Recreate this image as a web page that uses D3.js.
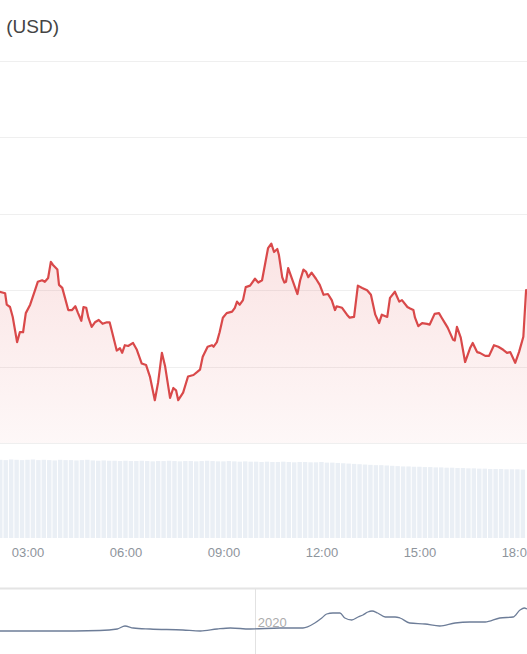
<!DOCTYPE html>
<html>
<head>
<meta charset="utf-8">
<script src="https://cdn.jsdelivr.net/npm/d3@7"></script>
<style>
  html, body { margin: 0; padding: 0; background: #fff; }
  svg { display: block; }
</style>
</head>
<body>
<svg id="chart" width="527" height="654"></svg>
<script>
// ---- Data ----
// Intraday price: minutes since 00:00 and price (USD)
const timesMin = [128,138,141,147,152,160,165,171,176,184,193,198,206,211,217,222,226,230,234,237,243,248,254,261,267,272,278,282,287,291,297,303,310,317,325,330,336,343,349,353,358,364,373,380,389,397,404,413,419,426,432,441,447,452,456,465,474,484,491,496,501,510,518,521,527,532,538,545,555,560,564,569,575,580,588,597,603,610,616,621,627,632,638,641,647,651,654,658,667,675,680,686,691,695,701,709,716,723,731,738,744,747,757,766,771,779,786,794,803,810,818,825,830,840,845,854,862,867,877,882,888,891,897,904,913,918,927,935,940,946,951,961,964,968,975,983,992,997,1005,1010,1020,1027,1036,1044,1053,1060,1066,1075,1082,1090,1095,1097,1100];
const prices = [7198,7196,7181,7178,7165,7132,7145,7145,7170,7181,7200,7211,7213,7211,7216,7237,7233,7230,7227,7207,7203,7190,7174,7174,7179,7170,7160,7178,7177,7164,7152,7158,7161,7156,7158,7158,7141,7121,7124,7118,7128,7127,7131,7122,7104,7102,7087,7056,7079,7118,7100,7059,7072,7069,7056,7066,7087,7089,7093,7096,7113,7126,7128,7126,7132,7145,7164,7170,7172,7177,7185,7181,7187,7204,7206,7215,7210,7213,7236,7255,7261,7250,7254,7246,7217,7210,7211,7229,7211,7195,7213,7227,7224,7217,7223,7215,7207,7194,7195,7187,7174,7179,7177,7168,7164,7165,7206,7203,7200,7194,7168,7157,7168,7165,7190,7198,7185,7187,7178,7176,7174,7164,7153,7157,7156,7155,7169,7170,7164,7157,7151,7135,7134,7152,7138,7106,7124,7131,7119,7118,7114,7114,7128,7126,7122,7118,7119,7105,7119,7139,7200,7198,7205];

// Volume (billions USD), one bar every 10 minutes starting at 02:10
const volStartMin = 130;
const volStepMin = 10;
const volumes = [24.7,24.6,24.8,24.7,24.6,24.7,24.8,24.6,24.7,24.6,24.5,24.7,24.6,24.6,24.5,24.6,24.7,24.5,24.4,24.5,24.4,
  24.4,24.3,24.4,24.3,24.3,24.4,24.3,24.2,24.3,24.3,24.4,24.3,24.2,24.3,24.3,24.2,24.3,24.4,24.3,24.2,24.2,24.3,24.2,24.1,24.2,24.1,
  24.1,24.0,24.1,24.0,24.0,24.1,24.0,23.9,24.0,24.0,23.9,23.9,24.0,23.8,23.8,23.7,23.6,23.5,23.4,23.3,
  23.2,23.1,23.0,23.0,22.9,22.8,22.7,
  22.6,22.6,22.5,22.5,22.4,22.4,22.3,22.3,22.2,22.2,22.1,22.1,
  22.0,22.0,21.9,21.9,21.8,21.8,21.8,21.7,21.7,21.7,21.6];

// Axis ticks
const xTickMinutes = [180, 360, 540, 720, 900, 1080];
const xTickLabels = ["03:00", "06:00", "09:00", "12:00", "15:00", "18:00"];
const yGridValues = [7000, 7100, 7200, 7300, 7400, 7500];

// Navigator (long-range history)
const navDates = ["2019-01-01","2019-03-14","2019-05-24","2019-06-18","2019-06-29","2019-07-11","2019-08-04","2019-09-20","2019-10-15","2019-11-08","2019-11-27","2019-12-25","2020-02-06","2020-03-10","2020-03-27","2020-04-06","2020-04-13","2020-04-22","2020-05-02","2020-05-09","2020-05-19","2020-05-28","2020-06-04","2020-06-11","2020-06-17","2020-06-25","2020-07-06","2020-07-20","2020-07-27","2020-08-10","2020-09-01","2020-09-22","2020-10-14","2020-11-04","2020-11-26","2020-12-17","2021-01-05","2021-01-15","2021-01-21","2021-01-25"];
const navValues = [3000,3000,3167,3667,4667,4000,3667,3333,3000,3667,4000,3667,4000,4000,5667,7333,8667,9000,9000,7333,6667,7667,8333,9333,9667,9000,7667,7667,7333,5667,5333,4667,5667,6000,6000,7333,7667,10000,10667,10333];
const navTickDates = ["2020-01-01"];
const navTickLabels = ["2020"];

const titleWord = "Price";
const titleUnit = "(USD)";

// ---- Drawing ----
const svg = d3.select("#chart");
const W = 527;

const x = d3.scaleLinear().domain([128.6, 1096.7]).range([0, W]);
const y = d3.scaleLinear().domain([7000, 7500]).range([443, 61]);
const yVol = d3.scaleLinear().domain([0, 30]).range([538, 443]);

// Title (cropped at the left edge as in the reference)
const title = svg.append("text")
  .attr("x", 59).attr("y", 33)
  .attr("text-anchor", "end")
  .attr("font-family", "Liberation Sans, Arial, sans-serif")
  .attr("font-size", 19)
  .attr("fill", "#444");
title.append("tspan").text(titleWord);
title.append("tspan").attr("dx", 7).text(titleUnit);

// Gridlines
svg.append("g").selectAll("line").data(yGridValues).join("line")
  .attr("x1", 0).attr("x2", W)
  .attr("y1", d => Math.round(y(d)) + 0.5).attr("y2", d => Math.round(y(d)) + 0.5)
  .attr("stroke", "#efefef").attr("stroke-width", 1);

// Volume bars
const volData = volumes.map((v, i) => ({ t: volStartMin + i * volStepMin, v }));
const barW = x(volStepMin) - x(0);
svg.append("g").selectAll("rect").data(volData).join("rect")
  .attr("x", d => x(d.t) - barW / 2)
  .attr("width", barW - 1)
  .attr("y", d => yVol(d.v))
  .attr("height", d => yVol(0) - yVol(d.v))
  .attr("fill", "#eaeff5");

// Area gradient
const defs = svg.append("defs");
const grad = defs.append("linearGradient")
  .attr("id", "redFade")
  .attr("gradientUnits", "userSpaceOnUse")
  .attr("x1", 0).attr("x2", 0)
  .attr("y1", y(7260)).attr("y2", y(7000));
grad.append("stop").attr("offset", "0%").attr("stop-color", "#e04848").attr("stop-opacity", 0.15);
grad.append("stop").attr("offset", "100%").attr("stop-color", "#e04848").attr("stop-opacity", 0.04);

const pts = timesMin.map((t, i) => ({ t, p: prices[i] }));

svg.append("path")
  .datum(pts)
  .attr("d", d3.area().x(d => x(d.t)).y0(y(7000)).y1(d => y(d.p)))
  .attr("fill", "url(#redFade)");

svg.append("path")
  .datum(pts)
  .attr("d", d3.line().x(d => x(d.t)).y(d => y(d.p)))
  .attr("fill", "none")
  .attr("stroke", "#d9494a")
  .attr("stroke-width", 2.2)
  .attr("stroke-linejoin", "round");

// X axis labels
svg.append("g").selectAll("text").data(xTickMinutes).join("text")
  .attr("x", d => x(d))
  .attr("y", 557)
  .attr("text-anchor", "middle")
  .attr("font-family", "Liberation Sans, Arial, sans-serif")
  .attr("font-size", 13)
  .attr("fill", "#8e949c")
  .text((d, i) => xTickLabels[i]);

// Navigator
const parse = d3.utcParse("%Y-%m-%d");
const navX = d3.scaleUtc().domain([parse("2019-01-01"), parse("2021-01-25")]).range([0, W]);
const navY = d3.scaleLinear().domain([0, 15000]).range([640, 595]);

svg.append("line")
  .attr("x1", 0).attr("x2", W).attr("y1", 588.5).attr("y2", 588.5)
  .attr("stroke", "#e4e4e4").attr("stroke-width", 2);

svg.append("g").selectAll("line").data(navTickDates).join("line")
  .attr("x1", d => Math.round(navX(parse(d))) + 0.5)
  .attr("x2", d => Math.round(navX(parse(d))) + 0.5)
  .attr("y1", 589).attr("y2", 654)
  .attr("stroke", "#e2e2e2").attr("stroke-width", 1);

svg.append("g").selectAll("text").data(navTickDates).join("text")
  .attr("x", d => navX(parse(d)) + 3)
  .attr("y", 627)
  .attr("font-family", "Liberation Sans, Arial, sans-serif")
  .attr("font-size", 13)
  .attr("fill", "#acacac")
  .text((d, i) => navTickLabels[i]);

const navPts = navDates.map((d, i) => ({ d: parse(d), v: navValues[i] }));
svg.append("path")
  .datum(navPts)
  .attr("d", d3.line().x(d => navX(d.d)).y(d => navY(d.v)).curve(d3.curveMonotoneX))
  .attr("fill", "none")
  .attr("stroke", "#6d7d98")
  .attr("stroke-width", 1.3);
</script>
</body>
</html>
